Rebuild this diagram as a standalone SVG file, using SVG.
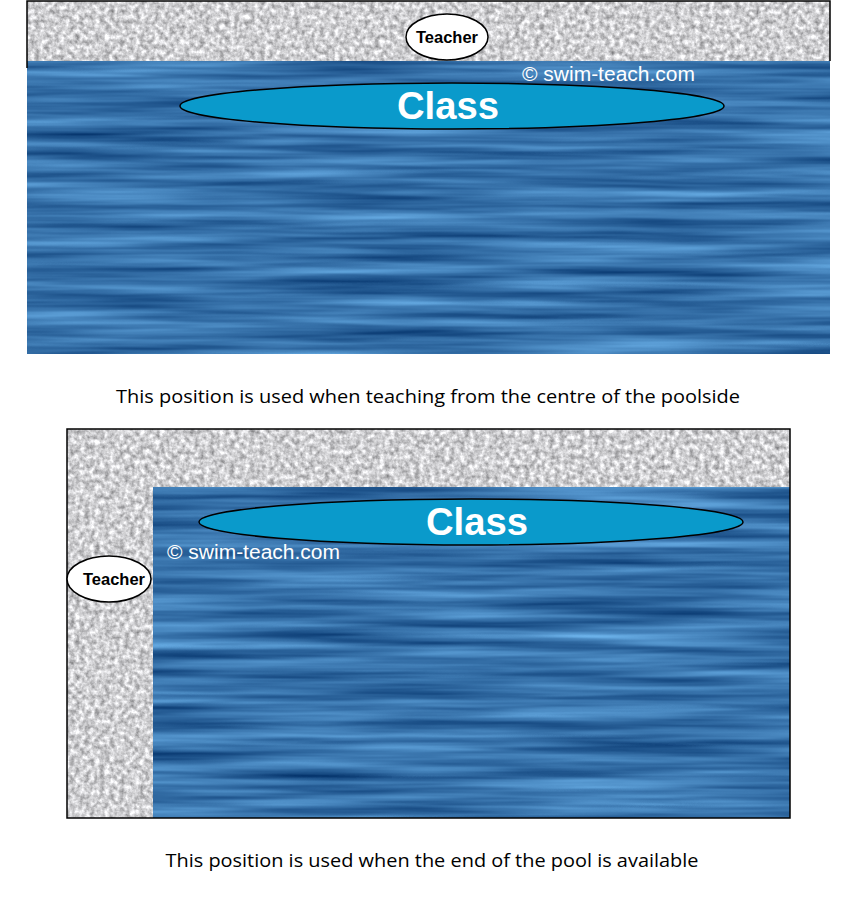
<svg xmlns="http://www.w3.org/2000/svg" width="865" height="899" viewBox="0 0 865 899">
<style>
.deck{filter:url(#granite)}
.water{filter:url(#water)}
.edge{fill:none;stroke:#000;stroke-width:1.5}
.cls{fill:#0a9acb;stroke:#000;stroke-width:1.5}
.tch{fill:#fff;stroke:#000;stroke-width:1.5}
.tt{font-family:"Liberation Sans",Arial,sans-serif;font-weight:bold;font-size:16px;fill:#000;text-anchor:middle}
.ct{font-family:"Liberation Sans",Arial,sans-serif;font-weight:bold;font-size:38px;fill:#fff;text-anchor:middle}
.cp{font-family:"Liberation Sans",Arial,sans-serif;font-size:20px;fill:#fff}
.cap{font-family:"Open Sans","Noto Sans",sans-serif;font-size:18px;fill:#000;text-anchor:middle}
</style>
<defs>
<filter id="granite" x="0" y="0" width="1" height="1" color-interpolation-filters="sRGB">
<feTurbulence type="fractalNoise" baseFrequency="0.2" numOctaves="3" seed="3" result="n"/>
<feColorMatrix in="n" type="matrix" values="0.7 0 0 0 0.46  0.7 0 0 0 0.46  0.7 0 0 0 0.47  0 0 0 0 1" result="g"/>
<feComposite in="g" in2="SourceGraphic" operator="in"/>
</filter>
<filter id="water" x="0" y="0" width="1" height="1" color-interpolation-filters="sRGB">
<feTurbulence type="fractalNoise" baseFrequency="0.004 0.1" numOctaves="3" seed="7" result="n"/>
<feColorMatrix in="n" type="matrix" values="0.45 0 0 0 -0.01  0.55 0 0 0 0.17  0.55 0 0 0 0.39  0 0 0 0 1" result="c"/>
<feComposite in="c" in2="SourceGraphic" operator="in"/>
</filter>
</defs>

<g id="pool-top">
<rect class="deck" x="27" y="1" width="803" height="60" fill="#ccc"/>
<rect class="water" x="27" y="61" width="803" height="293" fill="#3a72a8"/>
<path class="edge" d="M27,68 V1 H830 V61"/>
</g>
<g id="teacher-top">
<ellipse class="tch" cx="447" cy="37" rx="41" ry="23"/>
<text class="tt" x="447" y="43" textLength="62" lengthAdjust="spacingAndGlyphs">Teacher</text>
</g>
<text class="cp" x="522" y="81" textLength="173" lengthAdjust="spacingAndGlyphs">© swim-teach.com</text>
<g id="class-top">
<ellipse class="cls" cx="452" cy="106" rx="272" ry="23"/>
<text class="ct" x="448" y="119" textLength="102" lengthAdjust="spacingAndGlyphs">Class</text>
</g>
<text class="cap" x="428" y="403" textLength="624" lengthAdjust="spacingAndGlyphs">This position is used when teaching from the centre of the poolside</text>

<g id="pool-bottom">
<rect class="deck" x="67" y="429" width="723" height="389" fill="#ccc"/>
<rect class="water" x="153" y="487" width="637" height="331" fill="#3a72a8"/>
<rect class="edge" x="67" y="429" width="723" height="389"/>
</g>
<g id="class-bottom">
<ellipse class="cls" cx="471" cy="522" rx="272" ry="23"/>
<text class="ct" x="477" y="535" textLength="102" lengthAdjust="spacingAndGlyphs">Class</text>
</g>
<text class="cp" x="167" y="559" textLength="173" lengthAdjust="spacingAndGlyphs">© swim-teach.com</text>
<g id="teacher-bottom">
<ellipse class="tch" cx="109" cy="579" rx="42" ry="23"/>
<text class="tt" x="114" y="585" textLength="62" lengthAdjust="spacingAndGlyphs">Teacher</text>
</g>
<text class="cap" x="432" y="867" textLength="533" lengthAdjust="spacingAndGlyphs">This position is used when the end of the pool is available</text>
</svg>
